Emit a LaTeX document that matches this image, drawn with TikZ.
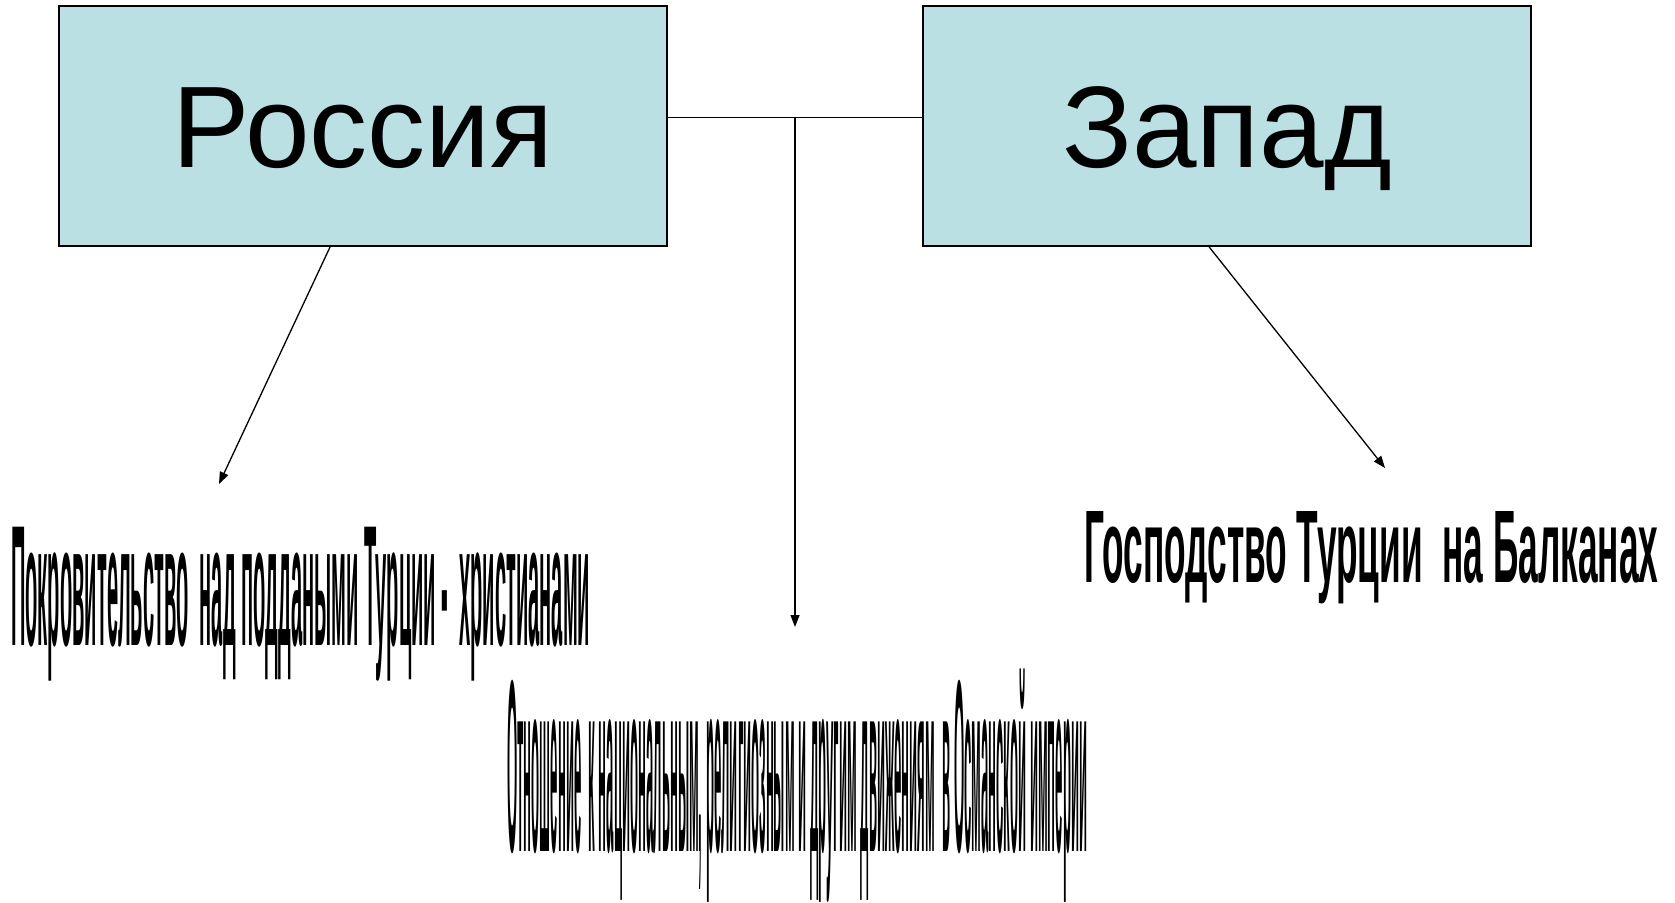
\documentclass[tikz,border=0pt]{standalone}
\usepackage{fontspec}
\setmainfont{Liberation Sans}
\usepackage{graphicx}
\usetikzlibrary{arrows.meta}
\definecolor{boxfill}{RGB}{187,224,227}
\newcommand{\capbox}[1]{\smash{#1}\vphantom{ОП}}
\tikzset{
  topbox/.style={draw=black, line width=1.8pt, fill=boxfill, rectangle,
    minimum width=608pt, minimum height=240pt, inner sep=0pt,
    font=\fontsize{116}{116}\selectfont, text height=83pt, text depth=0pt},
  conn/.style={line width=1.3pt, draw=black},
  arr/.style={conn, -{Triangle[length=12pt,width=9pt]}},
  lbl/.style={inner sep=0pt, anchor=base west}
}
\begin{document}
\begin{tikzpicture}[x=1pt,y=-1pt]
\useasboundingbox[fill=white] (0,0) rectangle (1675,902);
\node[topbox] (rus) at (363,126) {Россия};
\node[topbox] (zap) at (1227,126) {Запад};
\coordinate (jm) at (795,117.5);
\coordinate (midtip) at (795,627);
\coordinate (lefttip) at (219,484);
\coordinate (righttip) at (1385,468);
\node[lbl] (t1) at (11,645) {\resizebox{579pt}{120pt}{\bfseries\capbox{Покровительство\ \ над поддаными Турции -\ \ христианами}}};
\node[lbl] (t2) at (507,851) {\resizebox{580pt}{171pt}{\bfseries\capbox{Отношение\ \ к национальным, религиозным и другим движениям\ \ в Османской империи}}};
\node[lbl] (t3) at (1084,582) {\resizebox{574pt}{72pt}{\bfseries\capbox{Господство Турции\ \ на Балканах}}};
\draw[conn] (rus.east |- jm) -- (zap.west |- jm);
\draw[arr] (jm) -- (midtip);
\draw[arr] ([xshift=272pt]rus.south west) -- (lefttip);
\draw[arr] ([xshift=287pt]zap.south west) -- (righttip);
\end{tikzpicture}
\end{document}
